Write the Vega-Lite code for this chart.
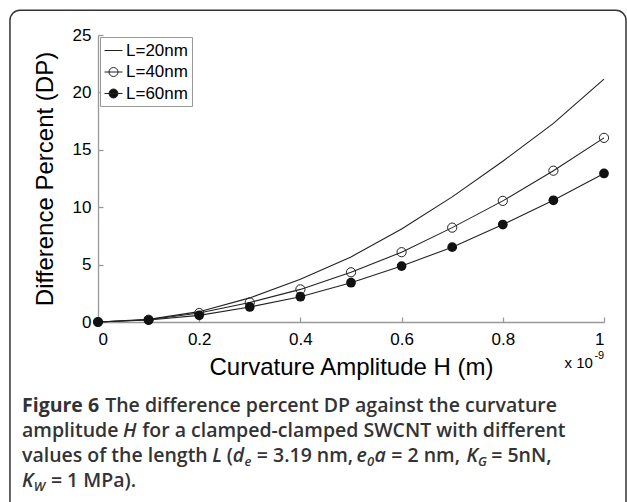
{
  "$schema": "https://vega.github.io/schema/vega-lite/v6.json",
  "autosize": "none",
  "width": 506,
  "height": 287,
  "padding": {"left": 98, "top": 35, "right": 23, "bottom": 180},
  "background": "white",
  "config": {
    "view": {"stroke": null},
    "axis": {
      "grid": false,
      "domainColor": "#999",
      "domainWidth": 1.3,
      "tickColor": "#999",
      "tickWidth": 1.3,
      "tickSize": -5,
      "labelFont": "Liberation Sans",
      "labelFontSize": 17,
      "labelColor": "#000",
      "titleFont": "Liberation Sans",
      "titleFontSize": 24,
      "titleFontWeight": "normal",
      "titleColor": "#000"
    },
    "legend": {
      "orient": "top-left",
      "offset": 2,
      "padding": 4,
      "strokeColor": "#999",
      "fillColor": "white",
      "labelFont": "Liberation Sans",
      "labelFontSize": 17,
      "labelColor": "#000",
      "symbolSize": 324,
      "rowPadding": 3.5,
      "labelOffset": 3
    },
    "text": {"font": "Open Sans", "fontSize": 19.5, "fontWeight": 600, "color": "#333", "align": "left", "baseline": "alphabetic"}
  },
  "datasets": {
    "curves": [
      {"H": 0.0, "DP": 0.0, "series": "L=20nm"},
      {"H": 0.1, "DP": 0.23, "series": "L=20nm"},
      {"H": 0.2, "DP": 0.9, "series": "L=20nm"},
      {"H": 0.3, "DP": 2.1, "series": "L=20nm"},
      {"H": 0.4, "DP": 3.72, "series": "L=20nm"},
      {"H": 0.5, "DP": 5.67, "series": "L=20nm"},
      {"H": 0.6, "DP": 8.1, "series": "L=20nm"},
      {"H": 0.7, "DP": 10.9, "series": "L=20nm"},
      {"H": 0.8, "DP": 14.0, "series": "L=20nm"},
      {"H": 0.9, "DP": 17.3, "series": "L=20nm"},
      {"H": 1.0, "DP": 21.15, "series": "L=20nm"},
      {"H": 0.0, "DP": 0.0, "series": "L=40nm"},
      {"H": 0.1, "DP": 0.2, "series": "L=40nm"},
      {"H": 0.2, "DP": 0.78, "series": "L=40nm"},
      {"H": 0.3, "DP": 1.7, "series": "L=40nm"},
      {"H": 0.4, "DP": 2.84, "series": "L=40nm"},
      {"H": 0.5, "DP": 4.33, "series": "L=40nm"},
      {"H": 0.6, "DP": 6.08, "series": "L=40nm"},
      {"H": 0.7, "DP": 8.22, "series": "L=40nm"},
      {"H": 0.8, "DP": 10.55, "series": "L=40nm"},
      {"H": 0.9, "DP": 13.18, "series": "L=40nm"},
      {"H": 1.0, "DP": 16.04, "series": "L=40nm"},
      {"H": 0.0, "DP": 0.0, "series": "L=60nm"},
      {"H": 0.1, "DP": 0.17, "series": "L=60nm"},
      {"H": 0.2, "DP": 0.58, "series": "L=60nm"},
      {"H": 0.3, "DP": 1.31, "series": "L=60nm"},
      {"H": 0.4, "DP": 2.2, "series": "L=60nm"},
      {"H": 0.5, "DP": 3.42, "series": "L=60nm"},
      {"H": 0.6, "DP": 4.87, "series": "L=60nm"},
      {"H": 0.7, "DP": 6.52, "series": "L=60nm"},
      {"H": 0.8, "DP": 8.49, "series": "L=60nm"},
      {"H": 0.9, "DP": 10.6, "series": "L=60nm"},
      {"H": 1.0, "DP": 12.94, "series": "L=60nm"}
    ],
    "one": [{}]
  },
  "data": {"name": "curves"},
  "layer": [
    {
      "mark": {"type": "line", "strokeWidth": 1.1, "color": "#222"},
      "encoding": {
        "x": {
          "field": "H", "type": "quantitative",
          "scale": {"domain": [0, 1], "nice": false},
          "axis": {"title": "Curvature Amplitude H (m)", "values": [0, 0.2, 0.4, 0.6, 0.8, 1], "format": "~g", "labelPadding": 14, "titlePadding": 8}
        },
        "y": {
          "field": "DP", "type": "quantitative",
          "scale": {"domain": [0, 25], "nice": false},
          "axis": {"title": "Difference Percent (DP)", "values": [0, 5, 10, 15, 20, 25], "labelPadding": 12, "titlePadding": 15}
        },
        "color": {
          "field": "series", "type": "nominal",
          "scale": {"domain": ["L=20nm", "L=40nm", "L=60nm"], "range": ["#222", "#222", "#222"]},
          "legend": {
            "title": null,
            "encode": {
              "symbols": {
                "update": {
                  "shape": {"signal": "datum.value === 'L=20nm' ? 'M-1,0H1' : 'M-1,0H1M-0.5,0A0.5,0.5,0,1,1,0.5,0A0.5,0.5,0,1,1,-0.5,0'"},
                  "fill": {"signal": "datum.value === 'L=60nm' ? '#111' : 'transparent'"},
                  "stroke": {"value": "#222"},
                  "strokeWidth": {"value": 1},
                  "opacity": {"value": 1}
                }
              }
            }
          }
        }
      }
    },
    {
      "transform": [{"filter": "datum.series === 'L=40nm'"}],
      "mark": {"type": "point", "shape": "circle", "filled": false, "stroke": "#222", "strokeWidth": 1, "opacity": 1, "size": 85},
      "encoding": {
        "x": {"field": "H", "type": "quantitative"},
        "y": {"field": "DP", "type": "quantitative"}
      }
    },
    {
      "transform": [{"filter": "datum.series === 'L=60nm'"}],
      "mark": {"type": "circle", "color": "#111", "opacity": 1, "size": 95},
      "encoding": {
        "x": {"field": "H", "type": "quantitative"},
        "y": {"field": "DP", "type": "quantitative"}
      }
    },
    {
      "data": {"name": "one"},
      "mark": {"type": "rect", "fill": null, "stroke": "#333", "strokeWidth": 1.5, "cornerRadius": 10, "clip": false},
      "encoding": {
        "x": {"datum": -0.174}, "x2": {"datum": 1.0435},
        "y": {"datum": 27.15}, "y2": {"datum": -16.5}
      }
    },
    {
      "data": {"name": "one"},
      "mark": {"type": "text", "font": "Liberation Sans", "fontSize": 15, "fontWeight": "normal", "color": "#000", "align": "right"},
      "encoding": {"x": {"datum": 0.978}, "y": {"datum": -4.0}, "text": {"value": "x 10"}}
    },
    {
      "data": {"name": "one"},
      "mark": {"type": "text", "font": "Liberation Sans", "fontSize": 11, "fontWeight": "normal", "color": "#000", "align": "left"},
      "encoding": {"x": {"datum": 0.981}, "y": {"datum": -3.2}, "text": {"value": "-9"}}
    },
    {"data": {"name": "one"}, "mark": {"type": "text", "fontWeight": 700},
     "encoding": {"x": {"datum": -0.1502}, "y": {"datum": -7.84}, "text": {"value": "Figure 6"}}},
    {"data": {"name": "one"}, "mark": {"type": "text"},
     "encoding": {"x": {"datum": 0.0142}, "y": {"datum": -7.84}, "text": {"value": "The difference percent DP against the curvature"}}},
    {"data": {"name": "one"}, "mark": {"type": "text"},
     "encoding": {"x": {"datum": -0.1502}, "y": {"datum": -10.017}, "text": {"value": "amplitude"}}},
    {"data": {"name": "one"}, "mark": {"type": "text", "fontStyle": "italic"},
     "encoding": {"x": {"datum": 0.04941}, "y": {"datum": -10.017}, "text": {"value": "H"}}},
    {"data": {"name": "one"}, "mark": {"type": "text"},
     "encoding": {"x": {"datum": 0.08735}, "y": {"datum": -10.017}, "text": {"value": "for a clamped-clamped SWCNT with different"}}},
    {"data": {"name": "one"}, "mark": {"type": "text"},
     "encoding": {"x": {"datum": -0.1502}, "y": {"datum": -12.195}, "text": {"value": "values of the length"}}},
    {"data": {"name": "one"}, "mark": {"type": "text", "fontStyle": "italic"},
     "encoding": {"x": {"datum": 0.22591}, "y": {"datum": -12.195}, "text": {"value": "L"}}},
    {"data": {"name": "one"}, "mark": {"type": "text"},
     "encoding": {"x": {"datum": 0.25435}, "y": {"datum": -12.195}, "text": {"value": "("}}},
    {"data": {"name": "one"}, "mark": {"type": "text", "fontStyle": "italic"},
     "encoding": {"x": {"datum": 0.26621}, "y": {"datum": -12.195}, "text": {"value": "d"}}},
    {"data": {"name": "one"}, "mark": {"type": "text", "fontStyle": "italic", "fontSize": 13},
     "encoding": {"x": {"datum": 0.28933}, "y": {"datum": -12.544}, "text": {"value": "e"}}},
    {"data": {"name": "one"}, "mark": {"type": "text"},
     "encoding": {"x": {"datum": 0.31383}, "y": {"datum": -12.195}, "text": {"value": "= 3.19 nm,"}}},
    {"data": {"name": "one"}, "mark": {"type": "text", "fontStyle": "italic"},
     "encoding": {"x": {"datum": 0.5107}, "y": {"datum": -12.195}, "text": {"value": "e"}}},
    {"data": {"name": "one"}, "mark": {"type": "text", "fontStyle": "italic", "fontSize": 13},
     "encoding": {"x": {"datum": 0.5316}, "y": {"datum": -12.544}, "text": {"value": "0"}}},
    {"data": {"name": "one"}, "mark": {"type": "text", "fontStyle": "italic"},
     "encoding": {"x": {"datum": 0.5464}, "y": {"datum": -12.195}, "text": {"value": "a"}}},
    {"data": {"name": "one"}, "mark": {"type": "text"},
     "encoding": {"x": {"datum": 0.5795}, "y": {"datum": -12.195}, "text": {"value": "= 2 nm,"}}},
    {"data": {"name": "one"}, "mark": {"type": "text", "fontStyle": "italic"},
     "encoding": {"x": {"datum": 0.7285}, "y": {"datum": -12.195}, "text": {"value": "K"}}},
    {"data": {"name": "one"}, "mark": {"type": "text", "fontStyle": "italic", "fontSize": 13},
     "encoding": {"x": {"datum": 0.7510}, "y": {"datum": -12.544}, "text": {"value": "G"}}},
    {"data": {"name": "one"}, "mark": {"type": "text"},
     "encoding": {"x": {"datum": 0.7771}, "y": {"datum": -12.195}, "text": {"value": "= 5nN,"}}},
    {"data": {"name": "one"}, "mark": {"type": "text", "fontStyle": "italic"},
     "encoding": {"x": {"datum": -0.1502}, "y": {"datum": -14.373}, "text": {"value": "K"}}},
    {"data": {"name": "one"}, "mark": {"type": "text", "fontStyle": "italic", "fontSize": 13},
     "encoding": {"x": {"datum": -0.12708}, "y": {"datum": -14.721}, "text": {"value": "W"}}},
    {"data": {"name": "one"}, "mark": {"type": "text"},
     "encoding": {"x": {"datum": -0.09308}, "y": {"datum": -14.373}, "text": {"value": "= 1 MPa)."}}}
  ]
}
